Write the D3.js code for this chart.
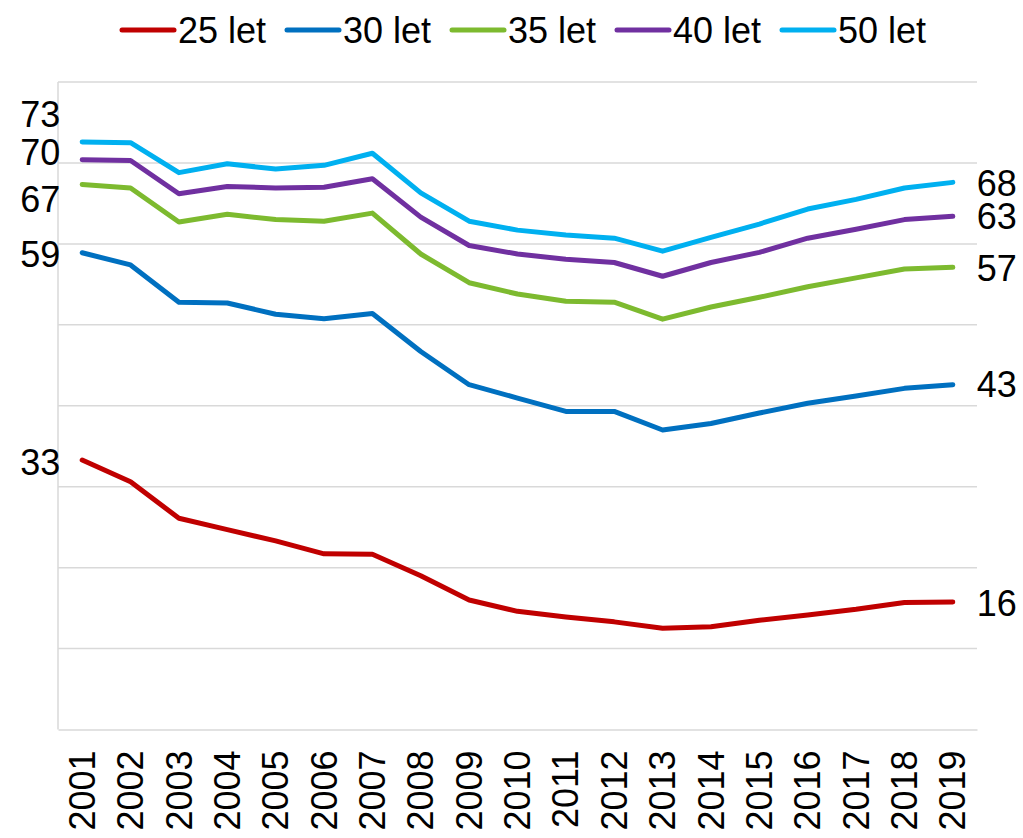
<!DOCTYPE html>
<html>
<head>
<meta charset="utf-8">
<script src="https://cdn.jsdelivr.net/npm/d3@7"></script>
<style>
  body { margin: 0; background: #fff; }
  text { font-family: "Liberation Sans", Arial, sans-serif; fill: #000; }
</style>
</head>
<body>
<svg id="chart"></svg>
<script>
const years = ["2001","2002","2003","2004","2005","2006","2007","2008","2009","2010",
               "2011","2012","2013","2014","2015","2016","2017","2018","2019"];
const seriesNames = ["25 let", "30 let", "35 let", "40 let", "50 let"];
const seriesColors = ["#C00000", "#0070C0", "#7DBA2F", "#7030A0", "#00B0F0"];

const let25 = [33.3, 30.6, 26.1, 24.7, 23.3, 21.7, 21.65, 19.0, 16.0, 14.6, 13.9, 13.3, 12.5, 12.7, 13.5, 14.15, 14.85, 15.7, 15.75];
const let30 = [58.9, 57.4, 52.8, 52.7, 51.3, 50.75, 51.4, 46.7, 42.6, 40.95, 39.3, 39.3, 37.0, 37.8, 39.1, 40.3, 41.2, 42.15, 42.6];
const let35 = [67.35, 66.9, 62.7, 63.65, 63.0, 62.8, 63.8, 58.75, 55.2, 53.8, 52.9, 52.8, 50.7, 52.2, 53.4, 54.7, 55.8, 56.9, 57.1];
const let40 = [70.4, 70.3, 66.2, 67.1, 66.9, 67.0, 68.05, 63.3, 59.8, 58.75, 58.1, 57.7, 56.0, 57.7, 58.95, 60.7, 61.8, 63.0, 63.4];
const let50 = [72.6, 72.5, 68.8, 69.9, 69.25, 69.7, 71.2, 66.3, 62.8, 61.7, 61.1, 60.7, 59.1, 60.8, 62.45, 64.3, 65.5, 66.9, 67.6];
const allSeries = [let25, let30, let35, let40, let50];

const yTicks = [0, 10, 20, 30, 40, 50, 60, 70, 80];

// vertical nudges for the end labels so they don't overlap
const leftLabelShift = [2, 2, 15, -7, -27];
const rightLabelShift = [1, 0, 1, 0, 1];

const width = 1023, height = 838,
      margin = {top: 82, right: 46, bottom: 108.5, left: 58};

const svg = d3.select("#chart")
    .attr("width", width)
    .attr("height", height);

const x = d3.scaleBand()
    .domain(years)
    .range([margin.left, width - margin.right]);

const y = d3.scaleLinear()
    .domain([0, 80])
    .range([height - margin.bottom, margin.top]);

// gridlines
svg.append("g")
   .selectAll("line")
   .data(yTicks.slice(1))
   .enter()
   .append("line")
   .attr("x1", margin.left)
   .attr("x2", width - margin.right)
   .attr("y1", d => y(d))
   .attr("y2", d => y(d))
   .attr("stroke", "#d9d9d9")
   .attr("stroke-width", 1.5);

// axes lines
svg.append("line")
   .attr("x1", margin.left).attr("x2", margin.left)
   .attr("y1", y(80)).attr("y2", y(0))
   .attr("stroke", "#d9d9d9").attr("stroke-width", 1.5);

const xAxis = svg.append("g")
   .attr("transform", `translate(0,${y(0)})`)
   .call(d3.axisBottom(x).tickSize(0).tickPadding(0));

xAxis.select(".domain").attr("stroke", "#d9d9d9").attr("stroke-width", 1.5);
xAxis.selectAll("text")
   .attr("font-size", 36)
   .attr("font-family", "Liberation Sans, Arial, sans-serif")
   .attr("fill", "#000")
   .attr("text-anchor", "end")
   .attr("dy", "0.35em")
   .attr("transform", "translate(0,21) rotate(-90)");

// lines
const line = d3.line()
    .x((d, i) => x(years[i]) + x.bandwidth() / 2)
    .y(d => y(d));

svg.append("g")
   .selectAll("path")
   .data(allSeries)
   .enter()
   .append("path")
   .attr("d", line)
   .attr("fill", "none")
   .attr("stroke", (d, i) => seriesColors[i])
   .attr("stroke-width", 5)
   .attr("stroke-linejoin", "round")
   .attr("stroke-linecap", "round");

// end labels
const fmt = d => Math.round(d);
const firstX = x(years[0]) + x.bandwidth() / 2;
const lastX = x(years[years.length - 1]) + x.bandwidth() / 2;

svg.append("g")
   .selectAll("text")
   .data(allSeries)
   .enter()
   .append("text")
   .attr("x", firstX - 22)
   .attr("y", (d, i) => y(d[0]) + leftLabelShift[i])
   .attr("dy", "0.35em")
   .attr("text-anchor", "end")
   .attr("font-size", 36)
   .text(d => fmt(d[0]));

svg.append("g")
   .selectAll("text")
   .data(allSeries)
   .enter()
   .append("text")
   .attr("x", lastX + 24)
   .attr("y", (d, i) => y(d[d.length - 1]) + rightLabelShift[i])
   .attr("dy", "0.35em")
   .attr("text-anchor", "start")
   .attr("font-size", 36)
   .text(d => fmt(d[d.length - 1]));

// legend
const legend = svg.append("g")
   .selectAll("g")
   .data(seriesNames)
   .enter()
   .append("g")
   .attr("transform", (d, i) => `translate(${120 + i * 165},30)`);

legend.append("line")
   .attr("x1", 2).attr("x2", 54)
   .attr("y1", 0).attr("y2", 0)
   .attr("stroke", (d, i) => seriesColors[i])
   .attr("stroke-width", 5)
   .attr("stroke-linecap", "round");

legend.append("text")
   .attr("x", 58)
   .attr("y", 0)
   .attr("dy", "0.35em")
   .attr("font-size", 36)
   .text(d => d);
</script>
</body>
</html>
